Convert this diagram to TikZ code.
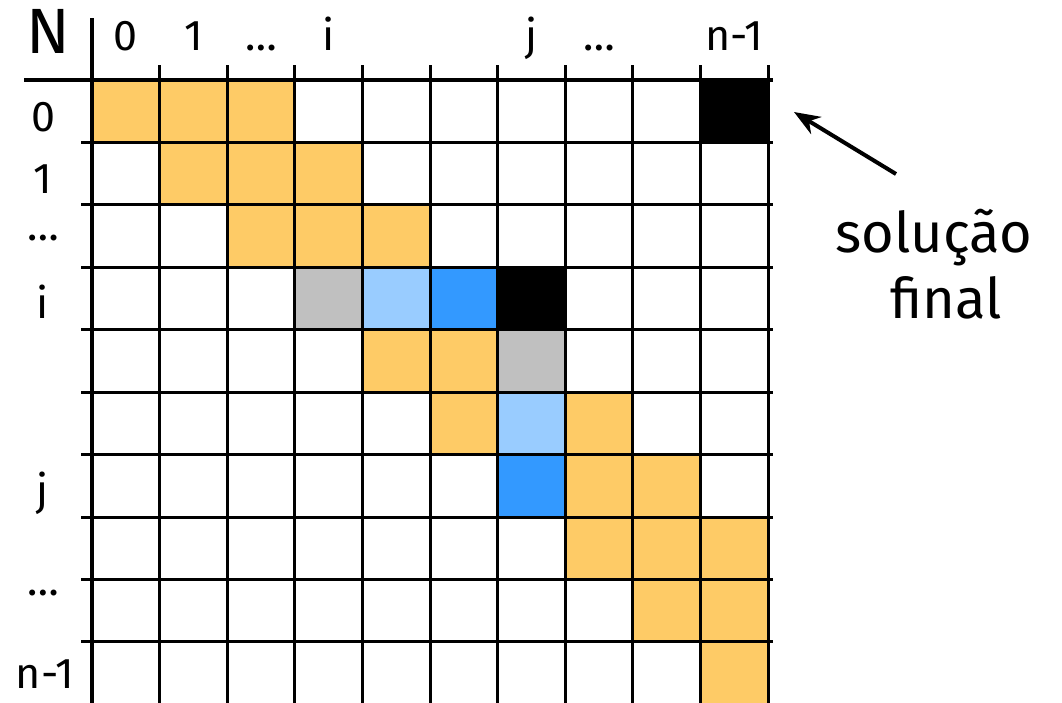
\documentclass[tikz,border=0pt]{standalone}
\usepackage{fontspec}
\setmainfont{Fira Sans}
\usetikzlibrary{arrows.meta}
\definecolor{cellorange}{HTML}{FECB66}
\definecolor{cellgray}{HTML}{C0C0C0}
\definecolor{celllight}{HTML}{99CCFF}
\definecolor{cellblue}{HTML}{3399FF}
\begin{document}
\begin{tikzpicture}[x=1pt,y=-1pt,
  gridline/.style={line width=3pt,black},
  axisline/.style={line width=4pt,black},
  lbl/.style={anchor=base,inner sep=0pt,font=\fontsize{43}{45}\selectfont},
  big/.style={anchor=base,inner sep=0pt,font=\fontsize{64}{66}\selectfont},
  note/.style={anchor=base,inner sep=0pt,font=\fontsize{56}{60}\selectfont},
  arr/.style={line width=4pt,-{Stealth[length=26pt,width=20pt]}}]
\useasboundingbox (0,0) rectangle (1062,702);
\def\cw{67.6}
\def\rh{62.44}
% cells
\foreach \r/\c/\col in {0/0/cellorange,0/1/cellorange,0/2/cellorange,
  1/1/cellorange,1/2/cellorange,1/3/cellorange,
  2/2/cellorange,2/3/cellorange,2/4/cellorange,
  3/3/cellgray,3/4/celllight,3/5/cellblue,3/6/black,
  4/4/cellorange,4/5/cellorange,4/6/cellgray,
  5/5/cellorange,5/6/celllight,5/7/cellorange,
  6/6/cellblue,6/7/cellorange,6/8/cellorange,
  7/7/cellorange,7/8/cellorange,7/9/cellorange,
  8/8/cellorange,8/9/cellorange,
  9/9/cellorange}
  \fill[\col] ({92+\c*\cw},{80+\r*\rh}) rectangle ++(\cw,\rh);
\node[fill=black,minimum width=\cw pt,minimum height=\rh pt,inner sep=0pt,anchor=north west]
  (sol) at ({92+9*\cw},80) {};
% grid
\foreach \k in {1,...,10}
  \draw[gridline] ({92+\k*\cw},65) -- ({92+\k*\cw},704);
\foreach \k in {1,...,9}
  \draw[gridline] (81,{80+\k*\rh}) -- (773,{80+\k*\rh});
\draw[axisline] (92,18) -- (92,704);
\draw[axisline] (24,80) -- (773,80);
% header
\node[big] (N) at (48,53) {N};
\foreach \c/\t [count=\n] in {0/0,1/1,2/\dots,3/i,6/j,7/\dots,9/n-1}
  \node[lbl] (col\n) at ({92+(\c+0.5)*\cw},50) {\t};
\foreach \r/\t [count=\n] in {0/0,1/1,3/i,6/j}
  \node[lbl] (row\n) at (43,{80+(\r+0.5)*\rh+20}) {\t};
\node[lbl] (rowlast) at (45,688) {n-1};
\node[lbl] (rowd1) at (43,240) {\dots};
\node[lbl] (rowd2) at (43,595) {\dots};
% annotation
\node[note] (t1) at (934,252) {solução};
\node[note] (t2) at (946,318) {final};
\coordinate (tail) at (896,174);
\coordinate (tip) at (794,112);
\draw[arr] (tail) -- (tip);
\end{tikzpicture}
\end{document}
